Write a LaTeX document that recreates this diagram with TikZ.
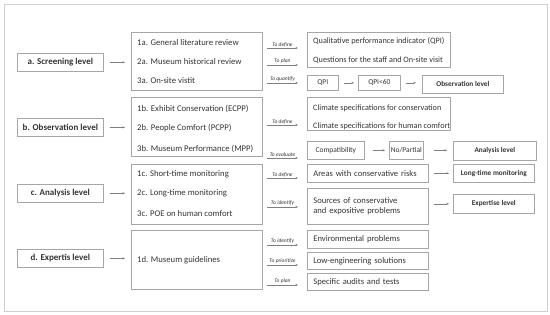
\documentclass[tikz,border=0pt]{standalone}
\usepackage{fontspec}
\setmainfont{Carlito}
\usetikzlibrary{arrows.meta}
\definecolor{txt}{HTML}{333333}
\definecolor{boxgray}{HTML}{A6A6A6}
\definecolor{framegray}{HTML}{CFCFCF}
\definecolor{arrgray}{HTML}{7F7F7F}
\begin{document}
\begin{tikzpicture}[x=1pt,y=-1pt,
  bx/.style={draw=boxgray, line width=0.7pt, rectangle, inner sep=0pt, anchor=north west, text=txt},
  lbox/.style={bx, minimum width=86pt, minimum height=18pt, font=\fontsize{9}{10}\selectfont\bfseries},
  rbold/.style={bx, font=\fontsize{7.3}{8}\selectfont\bfseries},
  rsmall/.style={bx, font=\fontsize{7.5}{8}\selectfont},
  ltxt/.style={bx, align=left, inner xsep=6pt, font=\fontsize{8.6}{10}\selectfont},
  mtxt/.style={anchor=west, inner sep=0pt, text=txt, font=\fontsize{8.7}{9}\selectfont},
  rtxt/.style={anchor=west, inner sep=0pt, text=txt, font=\fontsize{8.2}{9}\selectfont},
  arr/.style={draw=arrgray, line width=0.6pt, -{Stealth[length=2.6pt,width=2.2pt]}},
  lbl/.style={text=txt, inner sep=1pt, font=\fontsize{5.5}{6}\selectfont\itshape}
]
\useasboundingbox (0,0) rectangle (550,314);
\node[draw=framegray, line width=0.8pt, anchor=north west, minimum width=543pt, minimum height=307pt, inner sep=0pt] (frame) at (3.5,3.5) {};

% left level boxes
\node[lbox] (la) at (17,53) {a. Screening level};
\node[lbox] (lb) at (17,118) {b. Observation level};
\node[lbox] (lc) at (17,184) {c. Analysis  level};
\node[lbox] (ld) at (17,249) {d. Expertis level};

% middle boxes
\node[bx, minimum width=131pt, minimum height=58pt] (ma) at (131,32) {};
\node[bx, minimum width=131pt, minimum height=59pt] (mb) at (131,97) {};
\node[bx, minimum width=131pt, minimum height=60pt] (mc) at (131,164) {};
\node[bx, minimum width=131pt, minimum height=59pt] (md) at (131,230) {};

\node[mtxt] (t1a) at (137,43) {1a. General literature review};
\node[mtxt] (t2a) at (137,62) {2a. Museum historical review};
\node[mtxt] (t3a) at (137,81) {3a. On-site vistit};
\node[mtxt] (t1b) at (137,109) {1b. Exhibit Conservation (ECPP)};
\node[mtxt] (t2b) at (137,128) {2b. People Comfort (PCPP)};
\node[mtxt] (t3b) at (137,149) {3b. Museum Performance (MPP)};
\node[mtxt] (t1c) at (137,174) {1c. Short-time monitoring};
\node[mtxt] (t2c) at (137,193) {2c. Long-time monitoring};
\node[mtxt] (t3c) at (137,214) {3c. POE on human comfort};
\node[mtxt] (t1d) at (137,260) {1d. Museum guidelines};

\draw[arr, shorten <=6pt, shorten >=6pt] (la.east) -- (la.east -| ma.west);
\draw[arr, shorten <=6pt, shorten >=6pt] (lb.east) -- (lb.east -| mb.west);
\draw[arr, shorten <=6pt, shorten >=6pt] (lc.east) -- (lc.east -| mc.west);
\draw[arr, shorten <=6pt, shorten >=6pt] (ld.east) -- (ld.east -| md.west);

% right boxes
\node[bx, minimum width=143pt, minimum height=35pt] (ra1) at (307,32) {};
\node[rtxt] (q1) at (313,41) {Qualitative performance indicator (QPI)};
\node[rtxt] (q2) at (313,60) {Questions for the staff and On-site visit};
\node[rsmall, minimum width=31pt, minimum height=15pt] (qpi) at (307,75) {QPI};
\node[rsmall, minimum width=42pt, minimum height=15pt] (qpi60) at (358,75) {QPI<60};
\node[rbold, minimum width=81pt, minimum height=18pt] (obs) at (422,74.5) {Observation level};
\draw[arr, shorten <=5pt, shorten >=4pt] (qpi.east) -- (qpi.east -| qpi60.west);
\draw[arr, shorten <=5pt, shorten >=6pt] (qpi60.east) -- (qpi60.east -| obs.west);

\node[bx, minimum width=143pt, minimum height=33pt] (rb1) at (307,97) {};
\node[rtxt] (c1) at (313,108) {Climate specifications for conservation};
\node[rtxt] (c2) at (313,126) {Climate specifications for human comfort};
\node[rsmall, minimum width=57pt, minimum height=18pt] (comp) at (307,141) {Compatibility};
\node[rsmall, minimum width=34pt, minimum height=18pt] (nop) at (389,141) {No/Partial};
\node[rbold, minimum width=83pt, minimum height=19pt] (anl) at (453,140.5) {Analysis level};
\draw[arr, shorten <=8pt, shorten >=4pt] (comp.east) -- (comp.east -| nop.west);
\draw[arr, shorten <=10pt, shorten >=6pt] (nop.east) -- (nop.east -| anl.west);

\node[ltxt, text width=109pt, minimum height=18pt] (areas) at (307,164) {Areas with conservative risks};
\node[rbold, minimum width=81pt, minimum height=18pt] (ltm) at (453,164) {Long-time monitoring};
\node[ltxt, text width=109pt, minimum height=36pt] (src) at (307,188) {Sources of conservative\\and expositive problems};
\node[rbold, minimum width=81pt, minimum height=19pt] (exl) at (453,194) {Expertise level};
\draw[arr, shorten <=5pt, shorten >=4pt] (areas.east) -- (areas.east -| ltm.west);
\draw[arr, shorten <=5pt, shorten >=4pt] (exl.west -| src.east) -- (exl.west);

\node[ltxt, text width=109pt, minimum height=18pt] (env) at (307,230) {Environmental problems};
\node[ltxt, text width=109pt, minimum height=17pt] (low) at (307,252) {Low-engineering  solutions};
\node[ltxt, text width=109pt, minimum height=17pt] (spec) at (307,273) {Specific audits and tests};

% labelled connectors
\foreach \n/\y/\t in {a1/48/To define, a2/65/To plan, a3/83/To quantify, b1/125/To define, b2/158/To evaluate, c1/178/To define, c2/207/To identify, d1/245/To identify, d2/265/To prioritize, d3/285/To plan}{
  \coordinate (s\n) at (267,\y);
  \coordinate (e\n) at (298,\y);
  \draw[arr] (s\n) -- node[lbl, above] {\t} (e\n);
}
\end{tikzpicture}
\end{document}
